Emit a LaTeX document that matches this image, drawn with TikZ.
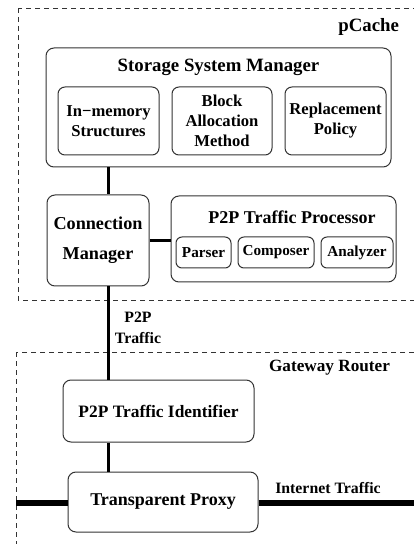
\documentclass[tikz,border=0pt]{standalone}
\usepackage{fontspec}
\setmainfont{Liberation Serif}
\usetikzlibrary{positioning}
\tikzset{
  grpbox/.style={draw=black!80, dash pattern=on 2.5pt off 2pt, line width=0.45pt},
  mainbox/.style={rectangle, rounded corners=4pt, draw=black!80, line width=0.5pt,
                  align=center, inner sep=1pt},
  subbox/.style={rectangle, rounded corners=3.5pt, draw=black!80, line width=0.5pt,
                 align=center, inner sep=1pt,
                 font=\fontsize{8.3}{10}\selectfont\bfseries},
  tinybox/.style={rectangle, rounded corners=3pt, draw=black!80, line width=0.5pt,
                  align=center, inner sep=1pt, minimum height=15.5pt,
                  font=\fontsize{7.6}{9}\selectfont\bfseries},
  bigfont/.style={font=\fontsize{9.4}{11}\selectfont\bfseries},
  lblfont/.style={font=\fontsize{7.9}{10.5}\selectfont\bfseries, align=center},
  link/.style={line width=1.5pt},
  pipe/.style={line width=3pt},
}
\begin{document}
\begin{tikzpicture}[x=0.5pt, y=-0.5pt]
  \useasboundingbox (0,0) rectangle (413,544);

  % dashed groups
  \draw[grpbox] (18,8) rectangle (430,300);
  \draw[grpbox] (16,352) rectangle (430,560);
  \node[bigfont, anchor=east] (pcache) at (406,27) {pCache};
  \node[bigfont, anchor=east, font=\fontsize{8.6}{10}\selectfont\bfseries] (gw) at (397,368) {Gateway Router};

  % storage system manager
  \node[mainbox, minimum width=172.5pt, minimum height=59.5pt] (ssm) at (218.5,107.5) {};
  \node[bigfont] (ssmt) at (218.5,67) {Storage System Manager};
  \node[subbox, minimum width=50.5pt, minimum height=34pt] (mem) at (108.5,121)
        {In\symbol{"2212}memory\\Structures};
  \node[subbox, minimum width=50pt, minimum height=34pt, right=6pt of mem] (blk)
        {Block\\Allocation\\Method};
  \node[subbox, minimum width=50.5pt, minimum height=34pt, right=6pt of blk] (rep)
        {Replacement\\Policy};

  % connection manager and traffic processor
  \node[mainbox, minimum width=51pt, minimum height=45.5pt,
        font=\fontsize{9.1}{15}\selectfont\bfseries] (cm) at (98,240.5)
        {Connection\\Manager};
  \node[mainbox, minimum width=112.5pt, minimum height=43pt] (tp) at (283.5,239) {};
  \node[bigfont, font=\fontsize{9}{11}\selectfont\bfseries] (tpt) at (292,217) {P2P Traffic Processor};
  \node[tinybox, minimum width=27.5pt] (par) at (203.5,252.5) {Parser};
  \node[tinybox, minimum width=38pt, right=3pt of par] (com) {Composer};
  \node[tinybox, minimum width=36pt, right=3pt of com] (ana) {Analyzer};

  % gateway router parts
  \node[mainbox, minimum width=95.5pt, minimum height=31pt,
        font=\fontsize{8.7}{10}\selectfont\bfseries] (ident) at (158.5,411)
        {P2P Traffic Identifier};
  \node[mainbox, minimum width=95pt, minimum height=30pt,
        font=\fontsize{9}{10}\selectfont\bfseries] (proxy) at (163,502)
        {Transparent Proxy};
  \coordinate (netL) at (16,503);
  \coordinate (netR) at (420,503);

  % links
  \draw[link] (ssm.south -| mem.south) -- (cm.north -| mem.south);
  \draw[link] (cm.east) -- (cm.east -| tp.west);
  \draw[link] (cm.south -| mem.south) -- (ident.north -| mem.south);
  \draw[link, line width=1.2pt] (ident.south -| mem.south) -- (proxy.north -| mem.south);
  \draw[pipe] (netL) -- (netL -| proxy.west);
  \draw[pipe] (proxy.east |- netR) -- (netR);

  \node[lblfont] (p2pl) at (138,328) {P2P\\Traffic};
  \node[lblfont] (netl) at (328,488) {Internet Traffic};
\end{tikzpicture}
\end{document}
